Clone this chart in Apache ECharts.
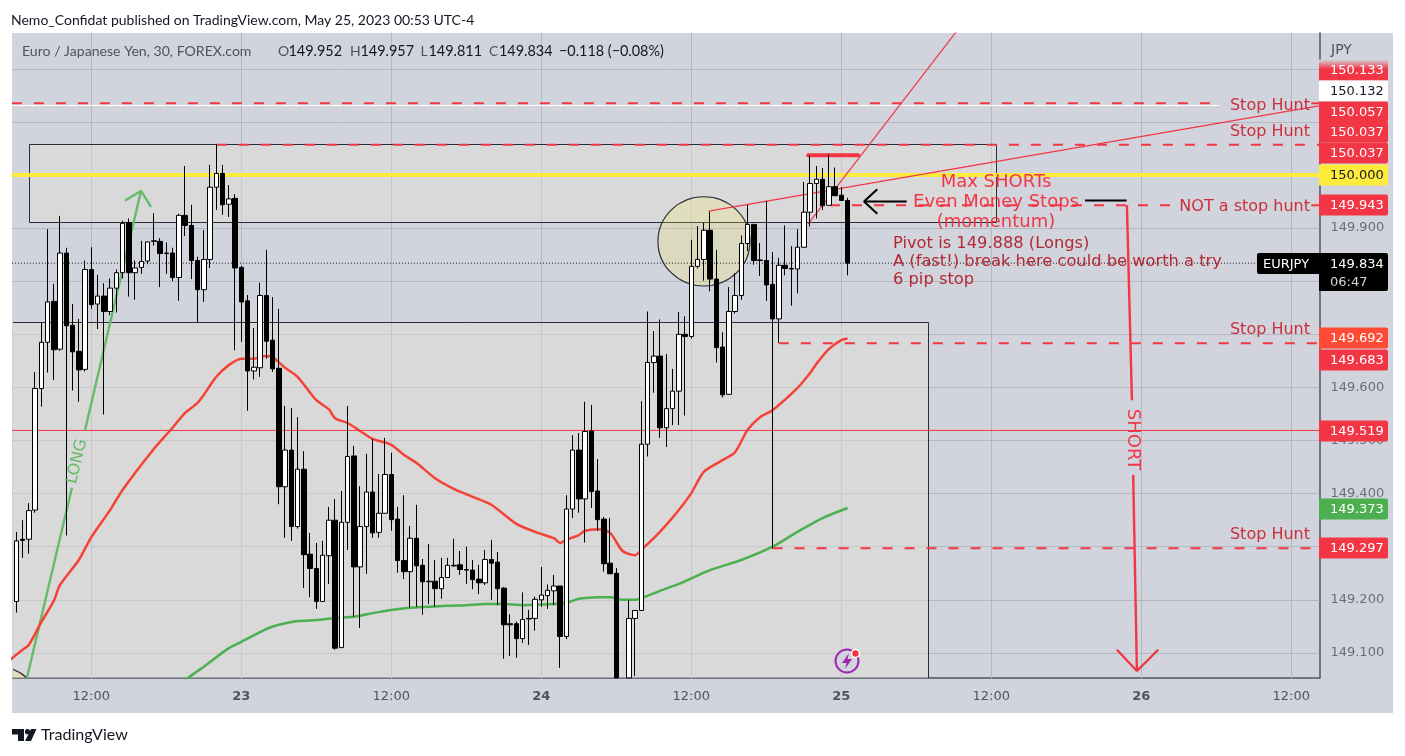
<!DOCTYPE html>
<html><head><meta charset="utf-8"><style>html,body{margin:0;padding:0;background:#fff}#c{width:1405px;height:756px}</style>
<script src="https://cdn.jsdelivr.net/npm/echarts@6/dist/echarts.min.js"></script></head><body><div id="c"></div>
<script>
const xTickIndex=[12,36,60,84,108,132,156,180,204];
const xTickLabel=['12:00','23','12:00','24','12:00','25','12:00','26','12:00'];
const yTicks=[149.1,149.2,149.3,149.4,149.5,149.6,149.7,149.8,149.9,150.0,150.1,150.2];
const opens=[149.197,149.314,149.314,149.369,149.598,149.685,149.762,149.672,149.853,149.717,149.668,149.634,149.822,149.757,149.772,149.743,149.787,149.816,149.910,149.816,149.826,149.838,149.876,149.875,149.853,149.853,149.807,149.924,149.905,149.839,149.784,149.841,149.977,150.003,149.945,149.956,149.826,149.763,149.631,149.637,149.773,149.689,149.636,149.413,149.482,149.338,149.446,149.286,149.259,149.197,149.283,149.350,149.110,149.346,149.471,149.262,149.338,149.403,149.327,149.363,149.436,149.352,149.274,149.253,149.316,149.265,149.235,149.235,149.221,149.242,149.265,149.266,149.257,149.256,149.239,149.232,149.276,149.271,149.222,149.155,149.155,149.127,149.165,149.165,149.200,149.208,149.217,149.226,149.131,149.371,149.482,149.390,149.518,149.405,149.352,149.269,149.250,null,149.053,149.165,149.180,149.493,149.647,149.659,149.524,149.560,149.593,149.700,149.696,149.828,149.841,149.896,149.804,149.676,149.587,149.743,149.773,149.871,149.907,149.840,149.839,149.794,149.729,149.830,149.824,149.823,149.864,149.930,149.984,149.992,149.943,149.978,149.962,149.952];
const closes=[149.311,149.312,149.368,149.598,149.685,149.761,149.671,149.853,149.716,149.667,149.633,149.822,149.756,149.772,149.743,149.787,149.816,149.909,149.816,149.825,149.837,149.874,149.875,149.852,149.852,149.807,149.924,149.905,149.839,149.784,149.841,149.977,150.003,149.944,149.955,149.825,149.761,149.631,149.638,149.773,149.687,149.635,149.413,149.482,149.338,149.446,149.285,149.259,149.197,149.284,149.350,149.109,149.346,149.470,149.262,149.338,149.403,149.326,149.363,149.436,149.351,149.274,149.253,149.316,149.264,149.234,149.234,149.221,149.242,149.265,149.264,149.257,149.256,149.238,149.232,149.276,149.269,149.221,149.153,149.153,149.127,149.163,149.164,149.201,149.209,149.218,149.226,149.131,149.371,149.482,149.390,149.517,149.404,149.351,149.268,149.249,149.053,null,149.165,149.180,149.493,149.647,149.659,149.524,149.560,149.593,149.700,149.696,149.828,149.841,149.896,149.804,149.675,149.586,149.743,149.773,149.871,149.907,149.839,149.839,149.793,149.729,149.830,149.824,149.823,149.864,149.930,149.984,149.992,149.942,149.978,149.961,149.952,149.834];
const lows=[149.176,149.279,149.287,149.364,149.564,149.628,149.614,149.669,149.321,149.594,149.573,149.630,149.748,149.710,149.549,149.736,149.741,149.805,149.771,149.765,149.814,149.832,149.867,149.789,149.814,149.800,149.763,149.885,149.804,149.723,149.761,149.825,149.934,149.925,149.921,149.670,149.686,149.556,149.615,149.620,149.654,149.629,149.380,149.317,149.311,149.334,149.222,149.205,149.183,149.197,149.230,149.106,149.110,149.294,149.168,149.147,149.249,149.317,149.317,149.363,149.330,149.251,149.239,149.185,149.187,149.172,149.192,149.187,149.202,149.242,149.262,149.247,149.230,149.220,149.211,149.228,149.200,149.190,149.089,149.094,149.091,149.119,149.115,149.142,149.187,149.183,149.190,149.072,149.126,149.354,149.364,149.308,149.373,149.330,149.253,149.249,149.053,null,149.053,149.057,149.180,149.470,149.590,149.505,149.488,149.529,149.529,149.547,149.692,149.824,149.801,149.781,149.647,149.581,149.587,149.739,149.765,149.857,149.831,149.810,149.763,149.297,149.684,149.811,149.754,149.777,149.863,149.903,149.918,149.934,149.943,149.961,149.952,149.811];
const highs=[149.328,149.350,149.382,149.629,149.723,149.898,149.795,149.923,149.863,149.757,149.729,149.839,149.864,149.812,149.796,149.805,149.822,149.914,149.918,149.839,149.876,149.874,149.928,149.881,149.873,149.863,149.927,150.017,149.944,149.846,149.896,150.019,150.058,150.019,149.981,149.964,149.829,149.774,149.712,149.797,149.859,149.770,149.748,149.565,149.561,149.544,149.480,149.326,149.307,149.311,149.375,149.390,149.405,149.565,149.490,149.414,149.475,149.503,149.437,149.505,149.477,149.375,149.397,149.339,149.379,149.277,149.305,149.275,149.279,149.279,149.315,149.292,149.300,149.275,149.266,149.294,149.313,149.290,149.224,149.173,149.159,149.214,149.181,149.206,149.262,149.229,149.247,149.226,149.397,149.510,149.514,149.573,149.567,149.465,149.356,149.354,149.260,null,149.200,149.180,149.574,149.743,149.706,149.728,149.663,149.635,149.742,149.734,149.878,149.904,149.910,149.931,149.859,149.704,149.789,149.815,149.886,149.944,149.907,149.872,149.951,149.855,149.844,149.905,149.866,149.898,149.987,150.037,150.017,150.013,150.039,150.014,149.977,149.957];
const emaRedIndex=[-1,1,2,4,6,7,10,12,15,17,22,25,27,29,30,32,34,36,38,40,41,43,45,48,50,51,53,55,57,60,62,64,67,70,73,76,80,83,86,87,88,90,91,93,95,97,99,100,102,104,106,108,110,113,115,117,119,121,125,127,128,130,132,133];
const emaRedValue=[149.087,149.106,149.115,149.158,149.198,149.228,149.275,149.318,149.369,149.407,149.484,149.524,149.552,149.571,149.586,149.620,149.642,149.654,149.654,149.659,149.657,149.637,149.620,149.576,149.559,149.542,149.533,149.518,149.503,149.492,149.473,149.458,149.429,149.409,149.394,149.379,149.343,149.328,149.316,149.307,149.313,149.322,149.330,149.333,149.326,149.292,149.284,149.294,149.316,149.341,149.369,149.401,149.441,149.463,149.478,149.520,149.544,149.557,149.599,149.627,149.644,149.672,149.689,149.692];
const emaGreenIndex=[27,29,30,34,36,40,42,45,48,51,54,57,60,63,66,69,72,75,78,81,86,88,90,93,95,97,99,100,103,106,111,116,121,125,129,133];
const emaGreenValue=[149.049,149.066,149.074,149.109,149.121,149.145,149.153,149.160,149.162,149.166,149.168,149.175,149.181,149.185,149.187,149.189,149.190,149.192,149.192,149.190,149.192,149.194,149.202,149.205,149.205,149.200,149.200,149.203,149.217,149.230,149.256,149.275,149.300,149.328,149.354,149.373];
const RED='#f23645', GRID='#b4b7c0', DARK='#2a2e39', GREEN='#66bb6a';
const END=208.5, START=-0.7;
// annotation drawings: x in bar index units, y in price
const drawings=[
 {x:[START,192.5],y:[150.131,150.131],c:'#ffffff',w:1,t:'solid'},
 {x:[START,192.5],y:[150.135,150.135],c:RED,w:2,t:[10,12]},
 {x:[207.2,END],y:[150.135,150.135],c:RED,w:2,t:'solid'},
 {x:[32.1,END],y:[150.057,150.057],c:RED,w:2,t:[10,12]},
 {x:[START,END],y:[150,150],c:'#ffeb3b',w:4,t:'solid'},
 {x:[126.7,134.7],y:[150.037,150.037],c:RED,w:4,t:'solid'},
 {x:[130.2,185.4],y:[149.943,149.943],c:RED,w:2,t:[10,12]},
 {x:[207.2,END],y:[149.943,149.943],c:RED,w:2,t:'solid'},
 {x:[122,END],y:[149.683,149.683],c:RED,w:2,t:[10,12]},
 {x:[121,END],y:[149.297,149.297],c:RED,w:2,t:[10,12]},
 {x:[START,END],y:[149.519,149.519],c:RED,w:1,t:'solid'},
 {x:[START,198.7],y:[149.834,149.834],c:'#131722',w:1,t:[1,2]},
 {x:[110.8,208.4],y:[149.932,150.130],c:RED,w:1.2,t:'solid'},
 {x:[126.7,151],y:[149.908,150.279],c:RED,w:1.2,t:'solid'},
 {x:[1.7,8.9],y:[149.053,149.411],c:GREEN,w:2.4,t:'solid'},
 {x:[11.0,19.95],y:[149.520,149.970],c:GREEN,w:2.4,t:'solid'},
 {x:[17.4,19.95,21.55],y:[149.952,149.970,149.940],c:GREEN,w:2.4,t:'solid'},
 {x:[177.7,178.5],y:[149.943,149.576],c:RED,w:2.4,t:'solid'},
 {x:[178.7,179.3],y:[149.435,149.066],c:RED,w:2.4,t:'solid'},
 {x:[176.1,179.3,182.7],y:[149.106,149.066,149.106],c:RED,w:2.4,t:'solid'},
 {x:[135.63,142.46],y:[149.950,149.950],c:'#000',w:2,t:'solid'},
 {x:[137.76,135.63,137.76],y:[149.973,149.950,149.927],c:'#000',w:2,t:'solid'},
 {x:[171,177.66],y:[149.952,149.952],c:'#000',w:2,t:'solid'}
];
// boxes: xStart,xEnd,priceTop,priceBottom
const boxes=[[2.03,156.75,150.058,149.912],[-0.7,145.9,149.723,149.0]];
const ovals=[[102.66,117.38,149.959,149.791],[-10.4,4.27,149.074,148.898]];
const categories=opens.map(()=>'');
for(let i=opens.length;i<209;i++)categories.push('');
xTickIndex.forEach((k,j)=>{categories[k]=xTickLabel[j];});
const candle=opens.map((o,i)=>o==null||closes[i]==null?['-','-','-','-']:[o,closes[i],lows[i],highs[i]]);
const toPairs=(a,b)=>a.map((v,i)=>[v,b[i]]);
const series=[];
series.push({type:'custom',xAxisIndex:1,z:1,silent:true,clip:true,encode:{x:[0,1],y:[2,3]},data:boxes,
 renderItem:(p,api)=>{const a=api.coord([api.value(0),api.value(2)]),b=api.coord([api.value(1),api.value(3)]);
  const x=Math.round(a[0])+.5,y=Math.round(a[1])+.5,x2=Math.round(b[0])+.5,y2=Math.round(b[1])+.5;
  return {type:'rect',shape:{x,y,width:x2-x,height:y2-y},style:{fill:'rgba(229,225,214,0.4)',stroke:DARK,lineWidth:1}};}});
series.push({type:'custom',xAxisIndex:1,z:2,silent:true,clip:true,encode:{x:[0,1],y:[2,3]},data:ovals,
 renderItem:(p,api)=>{const a=api.coord([api.value(0),api.value(2)]),b=api.coord([api.value(1),api.value(3)]);
  return {type:'ellipse',shape:{cx:(a[0]+b[0])/2,cy:(a[1]+b[1])/2,rx:(b[0]-a[0])/2,ry:(b[1]-a[1])/2},style:{fill:'rgba(255,240,90,0.22)',stroke:DARK,lineWidth:1.2}};}});
// gridlines
const gridLines=[...yTicks.map(v=>[[START,v],[END,v]]),...xTickIndex.map(k=>[[k,148.9],[k,150.4]])];
series.push({type:'lines',coordinateSystem:'cartesian2d',xAxisIndex:1,polyline:false,z:0.5,silent:true,clip:true,
 lineStyle:{color:GRID,width:1,opacity:1},data:gridLines.map(c=>({coords:c}))});
drawings.forEach((d)=>series.push({type:'line',xAxisIndex:1,z:3,silent:true,symbol:'none',animation:false,clip:true,
 lineStyle:{color:d.c,width:d.w,type:d.t,cap:d.w===4&&d.x[1]<140?'round':'butt'},data:toPairs(d.x,d.y)}));
series.push({type:'line',xAxisIndex:0,z:4,silent:true,symbol:'none',clip:true,smooth:0.25,lineStyle:{color:'#f44336',width:2.5},data:toPairs(emaRedIndex,emaRedValue)});
series.push({type:'line',xAxisIndex:0,z:4,silent:true,symbol:'none',clip:true,smooth:0.25,lineStyle:{color:'#4caf50',width:2.5},data:toPairs(emaGreenIndex,emaGreenValue)});
series.push({type:'candlestick',xAxisIndex:0,z:5,silent:true,clip:true,barWidth:5,data:candle,
 itemStyle:{color:'#ffffff',color0:'#000000',borderColor:'#000000',borderColor0:'#000000',borderWidth:1}});

// overlay labels
const TF='"DejaVu Sans"';
const g=[];
g.push({type:'rect',z:-10,silent:true,shape:{x:12,y:33,width:1381,height:680},style:{fill:'#d1d4dc'}});
const txt=(s,x,y,o={})=>g.push({type:'text',z:o.z||50,silent:true,x,y:y+1.5,rotation:o.rot||0,style:Object.assign({text:s,fill:o.c||'#000',font:(o.w||'normal')+' '+(o.s||14)+'px '+(o.f||TF),textAlign:o.a||'left',textVerticalAlign:'middle'},o.st||{})});
const HF='Lato';
txt('Nemo_Confidat published on TradingView.com, May 25, 2023 00:53 UTC-4',11,18.5,{f:HF,s:14,c:'#131722'});
txt('Euro / Japanese Yen, 30, FOREX.com',22,50,{f:HF,s:14.1,c:'#50535e'});
[['O',278],['H',350],['L',420.5],['C',489]].forEach(p=>txt(p[0],p[1],50,{f:HF,s:14,c:'#50535e'}));
[['149.952',288.5],['149.957',360.5],['149.811',428.5],['149.834',499],['−0.118 (−0.08%)',559]].forEach(p=>txt(p[0],p[1],50,{f:HF,s:14.4,c:'#131722'}));
txt('JPY',1331,49,{s:14,c:'#50535e'});
txt('TradingView',41,733.5,{f:HF,s:16.1,c:'#131722'});
g.push({type:'polygon',z:50,silent:true,shape:{points:[[12,729],[24,729],[24,741],[18,741],[18,734.5],[12,734.5]]},style:{fill:'#131722'}});
g.push({type:'circle',z:50,silent:true,shape:{cx:27.5,cy:731.7,r:2.6},style:{fill:'#131722'}});
g.push({type:'polygon',z:50,silent:true,shape:{points:[[31,729],[36.5,729],[31,741],[25,741]]},style:{fill:'#131722'}});
// tags
const tagText=['150.133','150.132','150.057','150.037','150.037','150.000','149.943','149.692','149.683','149.519','149.373','149.297'];
const tagY=[70,91,112,132,153,175,205,338,360,431,509,548];
const tagBg=[RED,'#ffffff',RED,RED,RED,'#ffeb3b',RED,'#ff4a35',RED,RED,'#4caf50',RED];
const tagFg=['#fff','#131722','#fff','#fff','#fff','#131722','#fff','#fff','#fff','#fff','#fff','#fff'];
tagText.forEach((t,i)=>{
 const fill=i===0?{type:'linear',x:0,y:0,x2:0,y2:1,colorStops:[{offset:0,color:'#d1d4dc'},{offset:0.45,color:RED},{offset:1,color:RED}]}:tagBg[i];
 g.push({type:'rect',z:60,silent:true,shape:{x:1319,y:tagY[i]-10.5,width:69,height:21,r:[0,2,2,0]},style:{fill}});
 txt(t,1330,tagY[i]-0.5,{s:13,c:tagFg[i],z:61});
});
g.push({type:'rect',z:60,silent:true,shape:{x:1319,y:253,width:69,height:38,r:[0,2,2,0]},style:{fill:'#000'}});
g.push({type:'rect',z:60,silent:true,shape:{x:1257,y:253,width:62,height:21,r:[2,0,0,2]},style:{fill:'#000'}});
txt('EURJPY',1263,263,{s:13,c:'#fff',z:61});
txt('149.834',1330,263,{s:13,c:'#fff',z:61});
txt('06:47',1330,281,{s:13,c:'#d1d4dc',z:61});
// notes
const NOTE='#cc2f3c';
txt('Stop Hunt',1310,104,{a:'right',s:16,c:NOTE});
txt('Stop Hunt',1310,130,{a:'right',s:16,c:NOTE});
txt('NOT a stop hunt',1310,205,{a:'right',s:16,c:NOTE});
txt('Stop Hunt',1310,328,{a:'right',s:16,c:NOTE});
txt('Stop Hunt',1310,533,{a:'right',s:16,c:NOTE});
txt('Max SHORTs',996,180.5,{a:'center',s:18,c:RED});
txt('Even Money Stops',996,200.5,{a:'center',s:18,c:RED});
txt('(momentum)',996,220.5,{a:'center',s:18,c:RED});
const PIV='#b22833';
txt('Pivot is 149.888 (Longs)',893,242.5,{s:16.3,c:PIV});
txt('A (fast!) break here could be worth a try',893,260,{s:16.3,c:PIV});
txt('6 pip stop',893,278,{s:16.3,c:PIV});
txt('SHORT',1133,438,{a:'center',s:18,c:RED,rot:-Math.PI/2});
txt('LONG',77,460,{a:'center',s:16,c:GREEN,rot:Math.PI*0.425});
// badge
g.push({type:'circle',z:50,silent:true,shape:{cx:847,cy:661,r:11.5},style:{fill:'#d1d4dc',stroke:'#9c27b0',lineWidth:2}});
g.push({type:'polygon',z:51,silent:true,shape:{points:[[849,653],[842,663],[846.5,663],[845,669],[852,659],[847.5,659]]},style:{fill:'#9c27b0'}});
g.push({type:'circle',z:51,silent:true,shape:{cx:855.5,cy:653.5,r:4},style:{fill:'#f23645',stroke:'#fff',lineWidth:1.5}});

const chart=echarts.init(document.getElementById('c'),null,{renderer:'canvas'});
chart.setOption({animation:false,backgroundColor:'#ffffff',
 grid:{left:13.175,top:33,width:1306.25,height:645,show:false},
 graphic:{elements:g},
 xAxis:[
  {type:'category',data:categories,boundaryGap:true,axisLine:{onZero:false,lineStyle:{color:'#50535e',width:1.5}},axisTick:{show:false},splitLine:{show:false},
   axisLabel:{show:true,interval:(i)=>xTickIndex.includes(i),margin:12,fontSize:13,fontFamily:TF,color:'#50535e',hideOverlap:false,
    formatter:v=>v.includes(':')?v:'{b|'+v+'}',rich:{b:{fontWeight:'bold',fontSize:13,fontFamily:TF,color:'#50535e'}}}},
  {type:'value',min:-0.5,max:208.5,show:false,splitLine:{show:false}}
 ],
 yAxis:[{type:'value',position:'right',min:149.0528,max:150.2674,scale:true,
  axisLine:{show:true,onZero:false,lineStyle:{color:'#50535e',width:1.5}},splitLine:{show:false},
  axisTick:{show:false,customValues:yTicks},
  axisLabel:{show:true,customValues:yTicks,margin:11,fontSize:13,fontFamily:TF,color:'#6a6d78',padding:[6,0,0,0],formatter:v=>Number(v).toFixed(3)}}],
 series});
</script></body></html>
